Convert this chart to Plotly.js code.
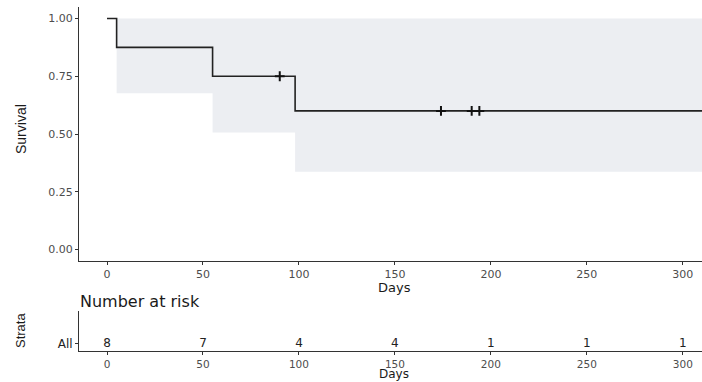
<!DOCTYPE html>
<html>
<head>
<meta charset="utf-8">
<script src="https://cdn.plot.ly/plotly-3.0.1.min.js"></script>
<style>html,body{margin:0;padding:0;background:#fff;}#chart{width:702px;height:382px;}</style>
</head>
<body>
<div id="chart"></div>
<script>
// Kaplan-Meier step data
var stepTimes = [0, 5, 55, 98, 310];
var stepSurv = [1, 0.875, 0.75, 0.6, 0.6];
// censoring marks
var censorTimes = [90, 174, 190, 194];
var censorSurv = [0.75, 0.6, 0.6, 0.6];
// confidence band
var ciTimes = [5, 55, 98, 310];
var ciLower = [0.677, 0.506, 0.337, 0.337];
var ciUpper = [1, 1, 1, 1];
// risk table
var riskTimes = [0, 50, 100, 150, 200, 250, 300];
var riskCounts = [8, 7, 4, 4, 1, 1, 1];
var strata = ['All'];
var xTicks = [0, 50, 100, 150, 200, 250, 300];
var yTicks = [0, 0.25, 0.5, 0.75, 1];
var yTickText = ['0.00', '0.25', '0.50', '0.75', '1.00'];

var W = 702, H = 382, L = 79, R = 0, T = 7, B = 31;
var PW = W - L - R, PH = H - T - B;
function px(x) { return (x - L) / PW; }
function py(y) { return (H - B - y) / PH; }

var tickFont = {family: 'DejaVu Sans, sans-serif', size: 11, color: '#4d4d4d'};

var traces = [
  {x: ciTimes, y: ciLower, mode: 'lines', line: {shape: 'hv', width: 0, color: 'rgba(0,0,0,0)'},
   xaxis: 'x', yaxis: 'y', showlegend: false, hoverinfo: 'skip'},
  {x: ciTimes, y: ciUpper, mode: 'lines', line: {shape: 'hv', width: 0, color: 'rgba(0,0,0,0)'},
   fill: 'tonexty', fillcolor: '#eceef2', xaxis: 'x', yaxis: 'y', showlegend: false, hoverinfo: 'skip'},
  {x: stepTimes, y: stepSurv, mode: 'lines', line: {shape: 'hv', width: 1.6, color: '#222222'},
   xaxis: 'x', yaxis: 'y', showlegend: false},
  {x: censorTimes, y: censorSurv, mode: 'markers',
   marker: {symbol: 'cross-thin', size: 7, line: {width: 2, color: '#111111'}, color: '#111111'},
   xaxis: 'x', yaxis: 'y', showlegend: false},
  {x: riskTimes, y: riskTimes.map(function(){return 0;}), mode: 'text',
   text: riskCounts.map(String), textposition: 'middle center',
   textfont: {family: 'DejaVu Sans, sans-serif', size: 12, color: '#222'},
   xaxis: 'x2', yaxis: 'y2', showlegend: false}
];

var axisCommon = {
  showline: true, linecolor: '#333', linewidth: 1, ticks: 'outside', ticklen: 3,
  tickcolor: '#333', tickwidth: 1, showgrid: false, zeroline: false, tickfont: tickFont
};
var xRange = [-14.6, 310];

var layout = {
  width: W, height: H,
  margin: {l: L, r: R, t: T, b: B, pad: 0},
  paper_bgcolor: '#ffffff', plot_bgcolor: '#ffffff',
  xaxis: Object.assign({}, axisCommon, {range: xRange, tickvals: xTicks, anchor: 'y', domain: [0, 1]}),
  yaxis: Object.assign({}, axisCommon, {range: [-0.05, 1.05], tickvals: yTicks, ticktext: yTickText,
    domain: [py(261), 1], anchor: 'x'}),
  xaxis2: Object.assign({}, axisCommon, {range: xRange, tickvals: xTicks, anchor: 'y2', domain: [0, 1],
    tickfont: {family: 'DejaVu Sans, sans-serif', size: 10.5, color: '#4d4d4d'}}),
  yaxis2: Object.assign({}, axisCommon, {range: [-0.18, 0.82], tickvals: [0], ticktext: strata,
    domain: [0, py(311)], anchor: 'x2',
    tickfont: {family: 'DejaVu Sans, sans-serif', size: 12, color: '#222'}}),
  annotations: [
    {text: 'Survival', xref: 'paper', yref: 'paper', x: px(21), y: py(129), textangle: -90,
     showarrow: false, xanchor: 'center', yanchor: 'middle',
     font: {family: 'Liberation Sans, Arial, sans-serif', size: 14, color: '#1a1a1a'}},
    {text: 'Days', xref: 'paper', yref: 'paper', x: px(394), y: py(287),
     showarrow: false, xanchor: 'center', yanchor: 'middle',
     font: {family: 'DejaVu Sans, sans-serif', size: 13, color: '#1a1a1a'}},
    {text: 'Number at risk', xref: 'paper', yref: 'paper', x: px(78), y: py(301),
     showarrow: false, xanchor: 'left', yanchor: 'middle',
     font: {family: 'DejaVu Sans, sans-serif', size: 16, color: '#1a1a1a'}},
    {text: 'Strata', xref: 'paper', yref: 'paper', x: px(20), y: py(331), textangle: -90,
     showarrow: false, xanchor: 'center', yanchor: 'middle',
     font: {family: 'Liberation Sans, Arial, sans-serif', size: 13, color: '#1a1a1a'}},
    {text: 'Days', xref: 'paper', yref: 'paper', x: px(394), y: 0, yshift: -B,
     showarrow: false, xanchor: 'center', yanchor: 'bottom', borderpad: 0,
     font: {family: 'DejaVu Sans, sans-serif', size: 12, color: '#1a1a1a'}}
  ]
};

Plotly.newPlot('chart', traces, layout, {displayModeBar: false, staticPlot: true});
</script>
</body>
</html>
